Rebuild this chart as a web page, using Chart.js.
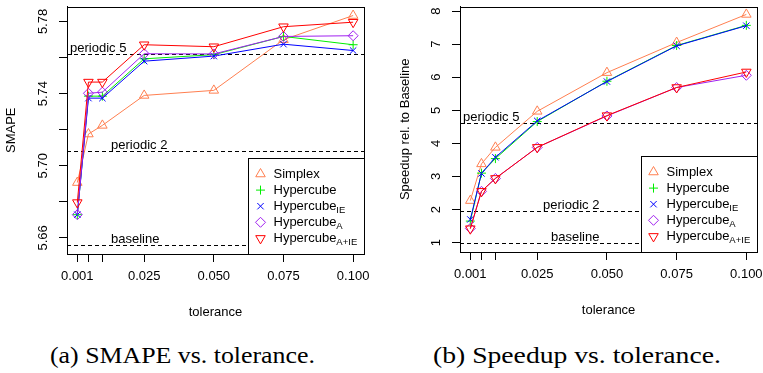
<!DOCTYPE html>
<html>
<head>
<meta charset="utf-8">
<script src="https://cdn.jsdelivr.net/npm/chart.js@4/dist/chart.umd.min.js"></script>
<style>
  body { margin: 0; background: #fff; width: 763px; height: 373px; position: relative; overflow: hidden; }
  canvas { position: absolute; top: 0; }
  #smapeChart { left: 0; }
  #speedupChart { left: 380px; }
  .caption { position: absolute; top: 343px; font-family: "Liberation Serif", serif; font-size: 24px; line-height: 24px; white-space: nowrap; transform-origin: 0 50%; color: #000; }
  #capA { left: 50px; }
  #capB { left: 433px; }
</style>
</head>
<body>
<canvas id="smapeChart" width="380" height="330"></canvas>
<canvas id="speedupChart" width="390" height="330"></canvas>
<div class="caption" id="capA">(a) SMAPE vs. tolerance.</div>
<div class="caption" id="capB">(b) Speedup vs. tolerance.</div>
<script>
// data
const tolerance = [0.001, 0.005, 0.01, 0.025, 0.05, 0.075, 0.1];
const labeledTolerance = [0.001, 0.025, 0.05, 0.075, 0.1];

const seriesNames = ['Simplex', 'Hypercube', 'Hypercube', 'Hypercube', 'Hypercube'];
const seriesSubs = ['', '', 'IE', 'A', 'A+IE'];

const smapeSimplex = [5.6907, 5.7176, 5.7224, 5.7390, 5.7418, 5.7699, 5.7833];
const smapeHypercube = [5.6729, 5.7386, 5.7386, 5.7593, 5.7616, 5.7717, 5.7671];
const smapeHypercubeIE = [5.6729, 5.7375, 5.7375, 5.7580, 5.7608, 5.7674, 5.7639];
const smapeHypercubeA = [5.6729, 5.7402, 5.7408, 5.7621, 5.7620, 5.7717, 5.7721];
const smapeHypercubeAIE = [5.6796, 5.7464, 5.7464, 5.7671, 5.7660, 5.7771, 5.7796];

const speedupSimplex = [2.27, 3.38, 3.88, 4.97, 6.14, 7.05, 7.90];
const speedupHypercube = [1.65, 3.10, 3.54, 4.66, 5.88, 6.96, 7.57];
const speedupHypercubeIE = [1.70, 3.09, 3.58, 4.68, 5.87, 6.95, 7.56];
const speedupHypercubeA = [1.43, 2.55, 2.94, 3.88, 4.83, 5.69, 6.06];
const speedupHypercubeAIE = [1.42, 2.55, 2.94, 3.88, 4.84, 5.69, 6.16];

const smapeTicks = [5.66, 5.68, 5.70, 5.72, 5.74, 5.76, 5.78];
const smapeTickLabels = ['5.66', '', '5.70', '', '5.74', '', '5.78'];
const speedupTicks = [1, 2, 3, 4, 5, 6, 7, 8];
const speedupTickLabels = ['1', '2', '3', '4', '5', '6', '7', '8'];

const refNames = ['baseline', 'periodic 2', 'periodic 5'];
const smapeRefs = [5.6561, 5.7081, 5.7621];
const speedupRefs = [1.0, 1.94, 4.62];

// styles
const FONT = '"Liberation Sans", Arial, Helvetica, sans-serif';
const seriesColors = ['#FF7F50', '#00EE00', '#0000FF', '#A020F0', '#FF0000'];
const seriesMarkers = [
    { style: 'triangle', radius: 5.5, rotation: 0 },
    { style: 'cross', radius: 4.5, rotation: 0 },
    { style: 'crossRot', radius: 4.5, rotation: 0 },
    { style: 'rectRot', radius: 5, rotation: 0 },
    { style: 'triangle', radius: 5.5, rotation: 180 }
];

function makeDatasets(values) {
    return values.map((vals, i) => ({
        label: seriesNames[i] + seriesSubs[i],
        data: tolerance.map((t, j) => ({ x: t, y: vals[j] })),
        borderColor: seriesColors[i],
        borderWidth: 1,
        pointStyle: seriesMarkers[i].style,
        pointRadius: seriesMarkers[i].radius,
        pointRotation: seriesMarkers[i].rotation,
        pointBorderColor: seriesColors[i],
        pointBackgroundColor: 'rgba(0,0,0,0)',
        pointBorderWidth: 1,
        tension: 0,
        order: values.length - i
    }));
}

function marker(ctx, m, x, y) {
    const r = m.radius;
    ctx.beginPath();
    if (m.style === 'triangle') {
        let a = m.rotation * Math.PI / 180;
        for (let k = 0; k < 3; k++) {
            const px = x + Math.sin(a) * r, py = y - Math.cos(a) * r;
            if (k === 0) ctx.moveTo(px, py); else ctx.lineTo(px, py);
            a += 2 * Math.PI / 3;
        }
        ctx.closePath();
    } else if (m.style === 'cross') {
        ctx.moveTo(x - r, y); ctx.lineTo(x + r, y);
        ctx.moveTo(x, y - r); ctx.lineTo(x, y + r);
    } else if (m.style === 'crossRot') {
        const d = r * Math.SQRT1_2;
        ctx.moveTo(x - d, y - d); ctx.lineTo(x + d, y + d);
        ctx.moveTo(x - d, y + d); ctx.lineTo(x + d, y - d);
    } else if (m.style === 'rectRot') {
        ctx.moveTo(x, y - r); ctx.lineTo(x + r, y); ctx.lineTo(x, y + r); ctx.lineTo(x - r, y);
        ctx.closePath();
    }
    ctx.stroke();
}

// R-like decorations: box, dashed reference lines, rotated y labels, titles, legend
const rPlot = {
    id: 'rPlot',
    beforeDatasetsDraw(chart, args, opts) {
        const ctx = chart.ctx, area = chart.chartArea;
        const xs = chart.scales.x, ys = chart.scales.y;
        ctx.save();
        ctx.strokeStyle = '#000';
        ctx.lineWidth = 1;
        ctx.setLineDash([4, 3]);
        opts.refs.forEach(v => {
            const y = Math.round(ys.getPixelForValue(v)) + 0.5;
            ctx.beginPath();
            ctx.moveTo(area.left, y);
            ctx.lineTo(area.right, y);
            ctx.stroke();
        });
        ctx.setLineDash([]);
        ctx.fillStyle = '#000';
        ctx.font = '13px ' + FONT;
        ctx.textBaseline = 'alphabetic';
        opts.refs.forEach((v, i) => {
            const y = Math.round(ys.getPixelForValue(v)) - 2.5;
            const pos = opts.refLabelPos[i];
            const x = pos.x === null ? area.left + 3 : xs.getPixelForValue(pos.x);
            ctx.textAlign = pos.align;
            ctx.fillText(refNames[i], x, y);
        });
        ctx.restore();
    },
    afterDatasetsDraw(chart, args, opts) {
        const ctx = chart.ctx, area = chart.chartArea;
        const ys = chart.scales.y;
        ctx.save();
        ctx.fillStyle = '#000';
        ctx.strokeStyle = '#000';
        ctx.lineWidth = 1;

        // box
        const L = Math.round(area.left) + 0.5, T = Math.round(area.top) + 0.5;
        const R = Math.round(area.right) + 0.5, B = Math.round(area.bottom) + 0.5;
        ctx.strokeRect(L, T, R - L, B - T);

        // y tick labels, parallel to axis
        ctx.font = '13px ' + FONT;
        ctx.textAlign = 'center';
        ctx.textBaseline = 'middle';
        opts.yTicks.forEach((v, i) => {
            const label = opts.yTickLabels[i];
            if (!label) return;
            ctx.save();
            ctx.translate(area.left - opts.yLabelGap, ys.getPixelForValue(v));
            ctx.rotate(-Math.PI / 2);
            ctx.fillText(label, 0, 0);
            ctx.restore();
        });

        // axis titles
        ctx.save();
        ctx.translate(area.left - opts.yTitleGap, (area.top + area.bottom) / 2);
        ctx.rotate(-Math.PI / 2);
        ctx.fillText(opts.yTitle, 0, 0);
        ctx.restore();
        ctx.fillText('tolerance', (area.left + area.right) / 2, area.bottom + 58);

        // legend
        const lw = 116, lh = 96;
        const bx = Math.round(area.right - lw) + 0.5, by = Math.round(area.bottom - lh) + 0.5;
        ctx.fillStyle = '#fff';
        ctx.fillRect(bx, by, lw, lh);
        ctx.strokeStyle = '#000';
        ctx.strokeRect(bx, by, R - bx, B - by);
        ctx.textAlign = 'left';
        ctx.textBaseline = 'middle';
        seriesNames.forEach((name, i) => {
            const cy = by + 15.5 + i * 16.1;
            ctx.strokeStyle = seriesColors[i];
            ctx.lineWidth = 1;
            marker(ctx, seriesMarkers[i], bx + 12, cy);
            ctx.fillStyle = '#000';
            ctx.font = '13px ' + FONT;
            ctx.fillText(name, bx + 25, cy);
            if (seriesSubs[i]) {
                const w = ctx.measureText(name).width;
                ctx.font = '9.5px ' + FONT;
                ctx.fillText(seriesSubs[i], bx + 25 + w, cy + 4);
            }
        });
        ctx.restore();
    }
};

function makeChart(canvasId, values, cfg) {
    return new Chart(document.getElementById(canvasId), {
        type: 'line',
        data: { datasets: makeDatasets(values) },
        options: {
            responsive: false,
            animation: false,
            events: [],
            layout: { padding: cfg.padding },
            plugins: {
                legend: { display: false },
                tooltip: { enabled: false },
                rPlot: {
                    refs: cfg.refs,
                    refLabelPos: cfg.refLabelPos,
                    yTicks: cfg.yTicks,
                    yTickLabels: cfg.yTickLabels,
                    yTitle: cfg.yTitle,
                    yLabelGap: cfg.yLabelGap,
                    yTitleGap: cfg.yTitleGap
                }
            },
            scales: {
                x: {
                    type: 'linear',
                    min: -0.0027,
                    max: 0.1039,
                    afterBuildTicks: s => { s.ticks = tolerance.map(v => ({ value: v })); },
                    afterFit: s => { s.height = cfg.xHeight; },
                    grid: { drawOnChartArea: false, drawTicks: true, tickLength: 8, color: '#000', lineWidth: 1 },
                    border: { display: true, color: '#000', width: 1 },
                    ticks: {
                        autoSkip: false,
                        maxRotation: 0,
                        padding: 7,
                        color: '#000',
                        font: { family: FONT, size: 13 },
                        callback: v => labeledTolerance.includes(v) ? v.toFixed(3) : ''
                    }
                },
                y: {
                    type: 'linear',
                    min: cfg.yMin,
                    max: cfg.yMax,
                    afterBuildTicks: s => { s.ticks = cfg.yTicks.map(v => ({ value: v })); },
                    afterFit: s => { s.width = cfg.yWidth; },
                    grid: { drawOnChartArea: false, drawTicks: true, tickLength: 8, color: '#000', lineWidth: 1 },
                    border: { display: true, color: '#000', width: 1 },
                    ticks: { display: false }
                }
            }
        },
        plugins: [rPlot]
    });
}

makeChart('smapeChart',
    [smapeSimplex, smapeHypercube, smapeHypercubeIE, smapeHypercubeA, smapeHypercubeAIE], {
    padding: { left: 0, right: 16, top: 6, bottom: 0 },
    xHeight: 76,
    yWidth: 67,
    yMin: 5.6511,
    yMax: 5.7883,
    yTicks: smapeTicks,
    yTickLabels: smapeTickLabels,
    yTitle: 'SMAPE',
    yLabelGap: 24,
    yTitleGap: 55.5,
    refs: smapeRefs,
    refLabelPos: [{ x: 0.0131, align: 'left' }, { x: 0.0131, align: 'left' }, { x: null, align: 'left' }]
});

makeChart('speedupChart',
    [speedupSimplex, speedupHypercube, speedupHypercubeIE, speedupHypercubeA, speedupHypercubeAIE], {
    padding: { left: 0, right: 11, top: 3, bottom: 0 },
    xHeight: 78,
    yWidth: 80,
    yMin: 0.715,
    yMax: 8.14,
    yTicks: speedupTicks,
    yTickLabels: speedupTickLabels,
    yTitle: 'Speedup rel. to Baseline',
    yLabelGap: 23.5,
    yTitleGap: 55,
    refs: speedupRefs,
    refLabelPos: [{ x: 0.0473, align: 'right' }, { x: 0.0473, align: 'right' }, { x: null, align: 'left' }]
});

// stretch the serif captions to the width they take in the figure
[['capA', 265], ['capB', 288]].forEach(([id, w]) => {
    const el = document.getElementById(id);
    el.style.transform = 'scaleX(' + (w / el.offsetWidth) + ')';
});
</script>
</body>
</html>
